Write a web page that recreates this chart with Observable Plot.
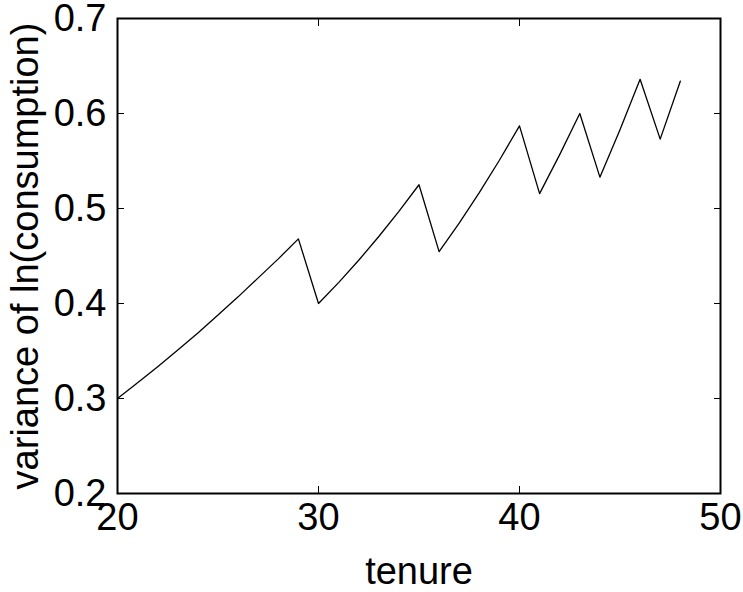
<!DOCTYPE html>
<html>
<head>
<meta charset="utf-8">
<script src="https://cdn.jsdelivr.net/npm/d3@7"></script>
<script src="https://cdn.jsdelivr.net/npm/@observablehq/plot@0.6"></script>
<style>
  html, body { margin: 0; padding: 0; background: #fff; }
  #chart svg { display: block; }
</style>
</head>
<body>
<div id="chart"></div>
<script>
const tenure = [20, 21, 22, 23, 24, 25, 26, 27, 28, 29,
                30, 31, 32, 33, 34, 35,
                36, 37, 38, 39, 40,
                41, 42, 43,
                44, 45, 46,
                47, 48];
const variance = [0.300, 0.3165, 0.3335, 0.351, 0.369, 0.388, 0.407, 0.427, 0.447, 0.468,
                  0.400, 0.422, 0.4455, 0.4705, 0.497, 0.525,
                  0.4546, 0.4846, 0.5167, 0.5508, 0.587,
                  0.5157, 0.5567, 0.600,
                  0.533, 0.583, 0.636,
                  0.573, 0.634];
const xTicks = [20, 30, 40, 50];
const yTicks = [0.2, 0.3, 0.4, 0.5, 0.6, 0.7];
const xLabel = "tenure";
const yLabel = "variance of ln(consumption)";

const data = tenure.map((t, i) => ({tenure: t, v: variance[i]}));

const chart = Plot.plot({
  width: 743,
  height: 592,
  marginLeft: 117,
  marginRight: 23,
  marginTop: 18,
  marginBottom: 99,
  style: {fontFamily: "'Liberation Sans', Arial, Helvetica, sans-serif", fontSize: "38px", color: "#000", background: "#fff"},
  x: {domain: [20, 50]},
  y: {domain: [0.2, 0.7]},
  marks: [
    Plot.axisX({anchor: "bottom", ticks: xTicks, tickSize: -7, tickPadding: 17, tickFormat: d => String(d),
      label: xLabel, labelAnchor: "center", labelArrow: "none", labelOffset: 90, stroke: "#000", fill: "#000"}),
    Plot.axisX({anchor: "top", ticks: xTicks, tickSize: -7, tickFormat: () => "", label: null, stroke: "#000"}),
    Plot.axisY({anchor: "left", ticks: yTicks, tickSize: -7, tickPadding: 18, tickFormat: d => d.toFixed(1),
      label: yLabel, labelAnchor: "center", labelArrow: "none", labelOffset: 106, stroke: "#000", fill: "#000"}),
    Plot.axisY({anchor: "right", ticks: yTicks, tickSize: -7, tickFormat: () => "", label: null, stroke: "#000"}),
    Plot.frame({stroke: "#000", strokeWidth: 2}),
    Plot.line(data, {x: "tenure", y: "v", stroke: "#000", strokeWidth: 1.3})
  ]
});
document.getElementById("chart").appendChild(chart);
</script>
</body>
</html>
